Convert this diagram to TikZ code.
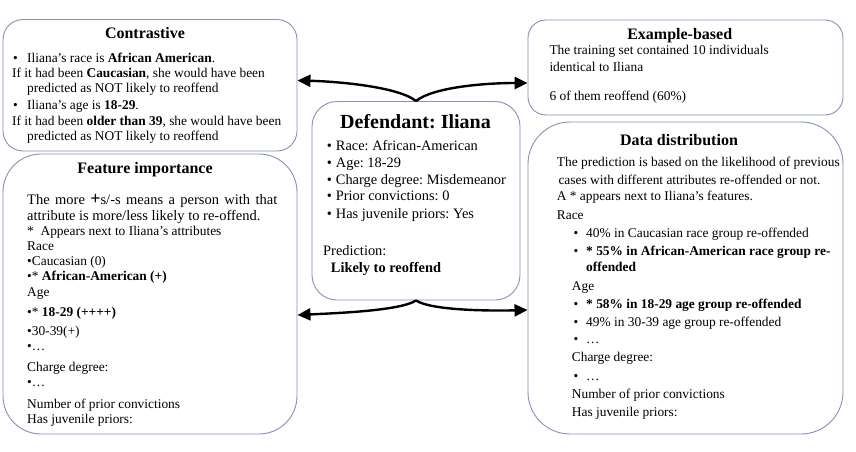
\documentclass[tikz,border=0pt]{standalone}
\usepackage{fontspec}
\setmainfont{Liberation Serif}
\usetikzlibrary{arrows.meta}
\definecolor{boxline}{RGB}{135,145,185}
\frenchspacing
\begin{document}
\begin{tikzpicture}[x=1pt,y=-1pt,
  box/.style={draw=boxline, line width=0.9pt, fill=white, inner sep=0pt},
  txt/.style={anchor=base west, inner sep=0pt, font=\fontsize{13.4}{16}\selectfont},
  btxt/.style={anchor=base west, inner sep=0pt, font=\fontsize{14.5}{17}\selectfont},
  dtxt/.style={anchor=base west, inner sep=0pt, font=\fontsize{14.4}{17}\selectfont},
  ttl/.style={anchor=base, inner sep=0pt, font=\fontsize{16}{19}\selectfont\bfseries},
  conn/.style={line width=2.4pt, -{Triangle[length=13pt,width=12pt]}}
]
\useasboundingbox (0,0) rectangle (856,452);
\fill[white] (0,0) rectangle (856,452);

% boxes
\node[box, minimum width=294pt, minimum height=131.5pt, rounded corners=20pt] (contrastive) at (150,85.25) {};
\node[box, minimum width=294pt, minimum height=280pt, rounded corners=38pt] (feature) at (150,294) {};
\node[box, minimum width=208pt, minimum height=198.5pt, rounded corners=25pt] (defendant) at (416,200.75) {};
\node[box, minimum width=315pt, minimum height=95pt, rounded corners=18pt] (example) at (685.5,67.5) {};
\node[box, minimum width=315pt, minimum height=312pt, rounded corners=42pt] (data) at (685.5,278) {};

% connectors
\draw[conn] (defendant.north) .. controls +(-17,-14) and +(42,1) .. ([yshift=4.75pt]contrastive.east);
\draw[conn] (defendant.north) .. controls +(17,-14) and +(-42,0) .. ([yshift=-15.5pt]example.west);
\draw[conn] (defendant.south) .. controls +(-15,10) and +(43,-2) .. ([yshift=-21pt]feature.east);
\draw[conn] (defendant.south) .. controls +(15,10) and +(-38,1) .. ([yshift=-32pt]data.west);

% Contrastive
\node[ttl] (cT) at (145,39) {Contrastive};
\node[txt] (cb1) at (13,62.7) {•};
\node[txt] (c1) at (27,62.7) {Iliana’s race is \textbf{African American}.};
\node[txt] (c2) at (12,77.7) {If it had been \textbf{Caucasian}, she would have been};
\node[txt] (c3) at (27,92.7) {predicted as NOT likely to reoffend};
\node[txt] (cb4) at (13,109) {•};
\node[txt] (c4) at (27,109) {Iliana’s age is \textbf{18-29}.};
\node[txt] (c5) at (12,125) {If it had been \textbf{older than 39}, she would have been};
\node[txt] (c6) at (27,140.7) {predicted as NOT likely to reoffend};

% Feature importance
\node[ttl] (fT) at (145,173.3) {Feature importance};
\node[btxt] (f1) at (27,204) {\spaceskip=5.4pt plus 1pt The more {\fontsize{18}{18}\selectfont\textbf{+}}s/-s means a person with that};
\node[btxt] (f2) at (27,220) {attribute is more/less likely to re-offend.};
\node[txt] (f3) at (27,235) {*\ \ Appears next to Iliana’s attributes};
\node[txt] (f4) at (27,250) {Race};
\node[txt] (f5) at (27,265) {•Caucasian (0)};
\node[txt] (f6) at (27,280.7) {•* \textbf{African-American (+)}};
\node[txt] (f7) at (27,296.7) {Age};
\node[txt] (f8) at (27,316) {•* \textbf{18-29 (++++)}};
\node[txt] (f9) at (27,335) {•30-39(+)};
\node[txt] (f10) at (27,350) {•…};
\node[txt] (f11) at (27,371.7) {Charge degree:};
\node[txt] (f12) at (27,386.7) {•…};
\node[txt] (f13) at (27,408) {Number of prior convictions};
\node[txt] (f14) at (27,423) {Has juvenile priors:};

% Defendant
\node[ttl, font=\fontsize{20}{24}\selectfont\bfseries] (dT) at (415.5,128.3) {Defendant: Iliana};
\node[dtxt] (db1) at (326.7,150.7) {•};
\node[dtxt] (d1) at (335.7,150.7) {Race: African-American};
\node[dtxt] (db2) at (326.7,167.3) {•};
\node[dtxt] (d2) at (335.7,167.3) {Age: 18-29};
\node[dtxt] (db3) at (326.7,184) {•};
\node[dtxt] (d3) at (335.7,184) {Charge degree: Misdemeanor};
\node[dtxt] (db4) at (326.7,200.7) {•};
\node[dtxt] (d4) at (335.7,200.7) {Prior convictions: 0};
\node[dtxt] (db5) at (326.7,218.3) {•};
\node[dtxt] (d5) at (335.7,218.3) {Has juvenile priors: Yes};
\node[dtxt] (d6) at (323,255) {Prediction:};
\node[dtxt] (d7) at (330.7,272.3) {\textbf{Likely to reoffend}};

% Example-based
\node[ttl] (eT) at (679.7,39.3) {Example-based};
\node[txt] (e1) at (549.3,55) {The training set contained 10 individuals};
\node[txt] (e2) at (549.3,71) {identical to Iliana};
\node[txt] (e3) at (549.3,100) {6 of them reoffend (60\%)};

% Data distribution
\node[ttl] (aT) at (679,145) {Data distribution};
\node[txt] (a1) at (556.7,166.7) {The prediction is based on the likelihood of previous};
\node[txt] (a2) at (558.3,184) {cases with different attributes re-offended or not.};
\node[txt] (a3) at (556.7,200.7) {A * appears next to Iliana’s features.};
\node[txt] (a4) at (556.7,219) {Race};
\node[txt] (ab5) at (573.3,237.3) {•};
\node[txt] (a5) at (586,237.3) {40\% in Caucasian race group re-offended};
\node[txt] (ab6) at (573.3,255) {•};
\node[txt] (a6) at (586,255) {\textbf{* 55\% in African-American race group re-}};
\node[txt] (a7) at (586,271.7) {\textbf{offended}};
\node[txt] (a8) at (571.7,290) {Age};
\node[txt] (ab9) at (573.3,308.3) {•};
\node[txt] (a9) at (586,308.3) {\textbf{* 58\% in 18-29 age group re-offended}};
\node[txt] (ab10) at (573.3,326.7) {•};
\node[txt] (a10) at (586,326.7) {49\% in 30-39 age group re-offended};
\node[txt] (ab11) at (573.3,343.3) {•};
\node[txt] (a11) at (586,343.3) {…};
\node[txt] (a12) at (571.7,361.7) {Charge degree:};
\node[txt] (ab13) at (573.3,380) {•};
\node[txt] (a13) at (586,380) {…};
\node[txt] (a14) at (571.7,398.3) {Number of prior convictions};
\node[txt] (a15) at (571.7,416.7) {Has juvenile priors:};
\end{tikzpicture}
\end{document}
